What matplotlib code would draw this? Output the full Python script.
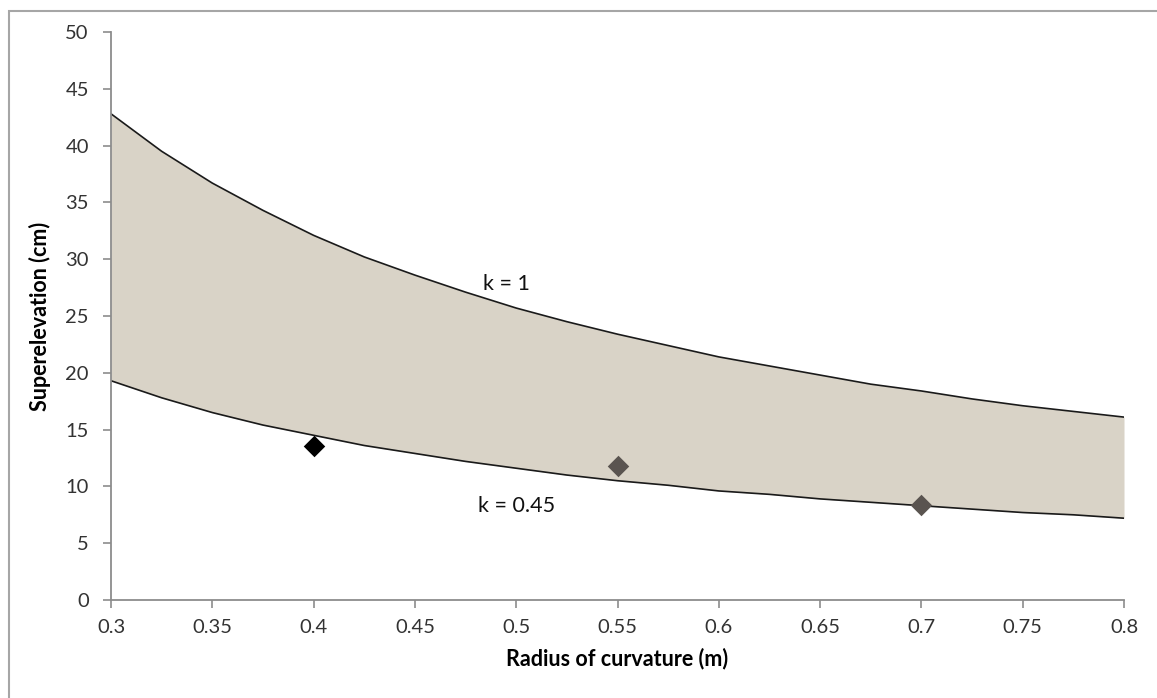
import matplotlib.pyplot as plt
from matplotlib.patches import Rectangle

# radius of curvature (m) and superelevation (cm)
radius = [0.3, 0.325, 0.35, 0.375, 0.4, 0.425, 0.45, 0.475, 0.5, 0.525, 0.55,
          0.575, 0.6, 0.625, 0.65, 0.675, 0.7, 0.725, 0.75, 0.775, 0.8]
upper_k1 = [42.8, 39.5, 36.7, 34.3, 32.1, 30.2, 28.6, 27.1, 25.7, 24.5, 23.4,
            22.4, 21.4, 20.6, 19.8, 19.0, 18.4, 17.7, 17.1, 16.6, 16.1]
lower_k045 = [19.3, 17.8, 16.5, 15.4, 14.5, 13.6, 12.9, 12.2, 11.6, 11.0, 10.5,
              10.1, 9.6, 9.3, 8.9, 8.6, 8.3, 8.0, 7.7, 7.5, 7.2]

# measured points
meas_x = [0.4, 0.55, 0.7]
meas_y = [13.6, 11.8, 8.4]
meas_colors = ['#000000', '#5a5450', '#5a5450']

x_ticks = [0.3, 0.35, 0.4, 0.45, 0.5, 0.55, 0.6, 0.65, 0.7, 0.75, 0.8]
x_tick_labels = ['0.3', '0.35', '0.4', '0.45', '0.5', '0.55', '0.6', '0.65', '0.7', '0.75', '0.8']
y_ticks = [0, 5, 10, 15, 20, 25, 30, 35, 40, 45, 50]

plt.rcParams['font.family'] = ['Lato', 'DejaVu Sans']

fig = plt.figure(figsize=(11.57, 6.98), dpi=100)
# outer gray frame (only top and left edges are visible in the original)
fig.patches.append(Rectangle((9 / 1157, -0.1), 1.2, 1.1 - 11 / 698,
                             transform=fig.transFigure, fill=False,
                             edgecolor='#a6a6a6', linewidth=1.5))

ax = fig.add_axes([111 / 1157, 98 / 698, 1013 / 1157, 568 / 698])

ax.fill_between(radius, lower_k045, upper_k1, color='#d9d3c7', linewidth=0)
ax.plot(radius, upper_k1, color='#1a1a1a', linewidth=1.2)
ax.plot(radius, lower_k045, color='#1a1a1a', linewidth=1.2)

for x, y, c in zip(meas_x, meas_y, meas_colors):
    ax.scatter(x, y, marker='D', s=120, color=c, zorder=3, linewidths=0)

ax.text(0.495, 27.8, 'k = 1', fontsize=15.5, ha='center', va='center', color='#111111')
ax.text(0.5, 8.3, 'k = 0.45', fontsize=15.5, ha='center', va='center', color='#111111')

ax.set_xlim(0.3, 0.8)
ax.set_ylim(0, 50)
ax.set_xticks(x_ticks)
ax.set_xticklabels(x_tick_labels)
ax.set_yticks(y_ticks)

for side in ['top', 'right']:
    ax.spines[side].set_visible(False)
for side in ['left', 'bottom']:
    ax.spines[side].set_color('#8c8c8c')
    ax.spines[side].set_linewidth(1.3)
ax.tick_params(direction='out', length=6, width=1.2, color='#8c8c8c',
               labelsize=14.5, labelcolor='#333333')
ax.tick_params(axis='x', pad=8)
ax.tick_params(axis='y', pad=10)

ax.set_xlabel('Radius of curvature (m)', fontsize=15.5, fontweight='bold', labelpad=8)
ax.set_ylabel('Superelevation (cm)', fontsize=15.5, fontweight='bold', labelpad=10)

fig.savefig('out.png', dpi=100)
